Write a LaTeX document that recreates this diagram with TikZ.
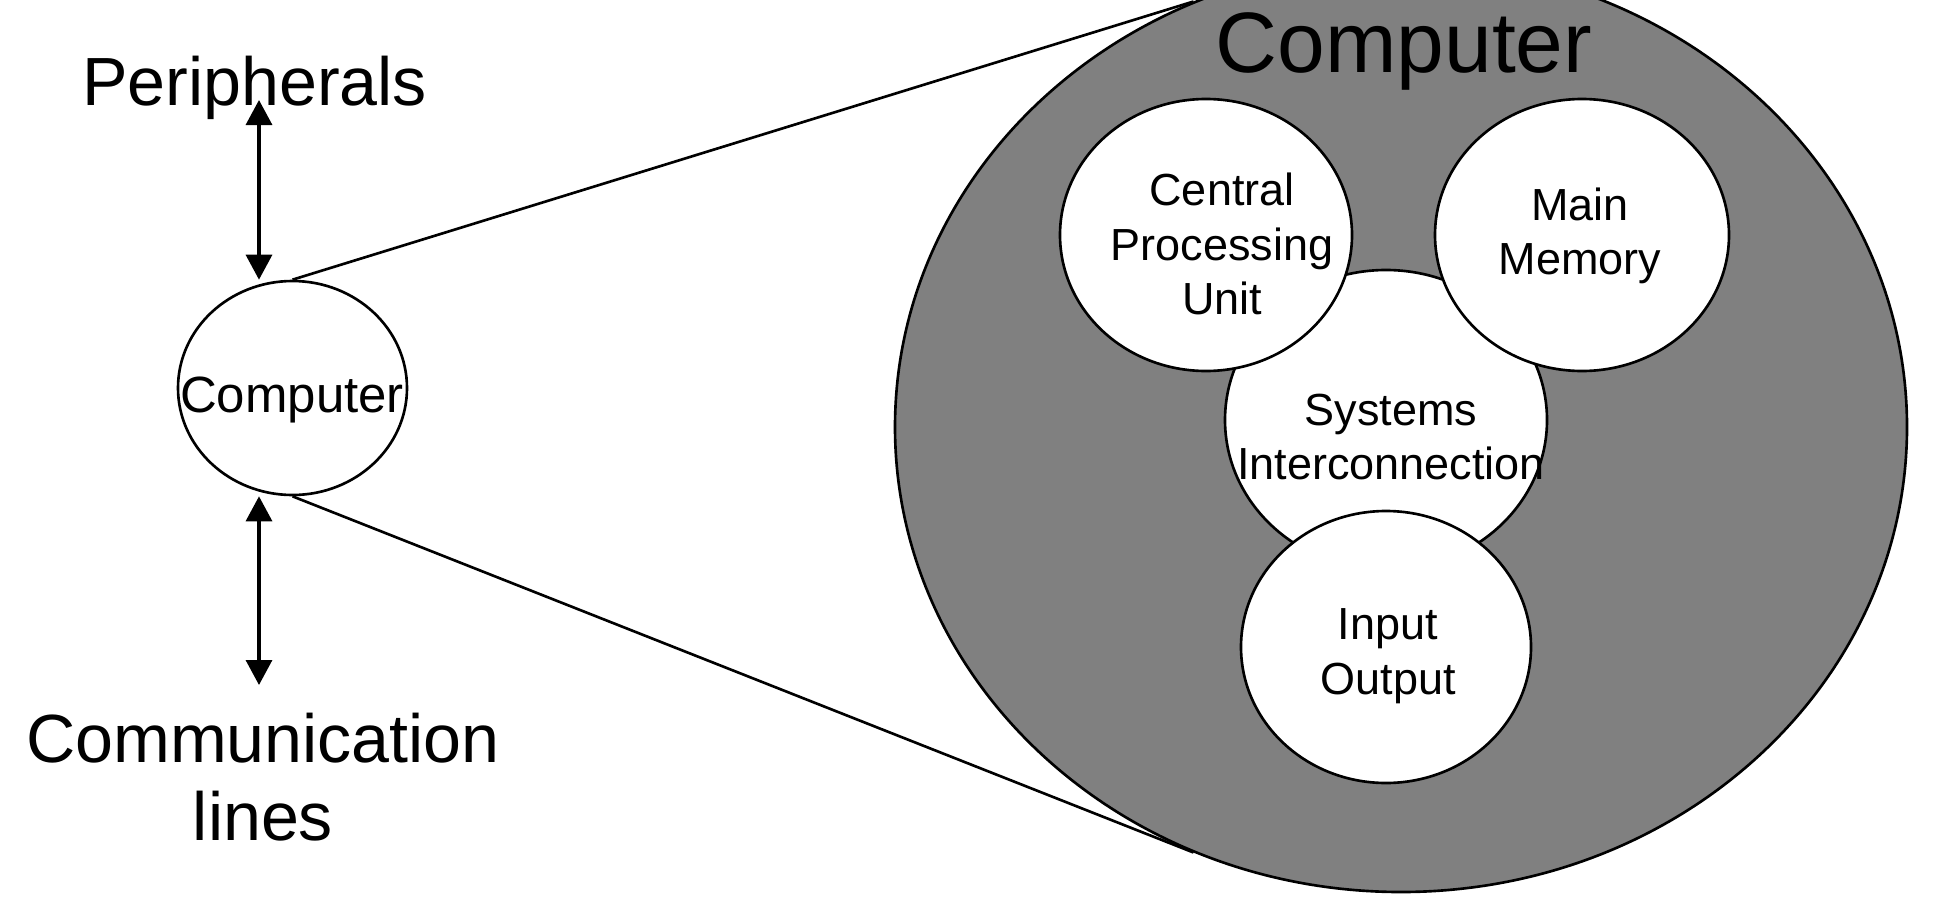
\documentclass[tikz,border=0pt]{standalone}
\usepackage{fontspec}
\setmainfont{Liberation Sans}
\usepackage{tikz}
\usetikzlibrary{shapes.geometric}
\usetikzlibrary{arrows.meta}

\begin{document}
\begin{tikzpicture}[
   unit/.style={draw, ellipse, fill=white, line width=.75pt, inner sep=0pt},
   caption/.style={align=center, inner sep=0pt, font=\fontsize{12.8}{15.5}\selectfont},
   bigtext/.style={align=center, inner sep=0pt, font=\fontsize{19.4}{22.2}\selectfont},
   link/.style={line width=.75pt},
   dbl/.style={line width=.95pt, {Triangle[length=.25cm,width=.26cm]}-{Triangle[length=.25cm,width=.26cm]}}
]
   \useasboundingbox (0,0) rectangle (19.4,-9.15);

   \node[name=comp, unit, fill=black!50, minimum width=10.12cm, minimum height=9.3cm] at (14.01,-4.27) {};
   \node[name=title, anchor=base, inner sep=0pt, font=\fontsize{24.4}{29}\selectfont] at (14.04,-0.72) {Computer};

   \node[name=sic, unit, minimum width=3.22cm, minimum height=3cm] at (13.86,-4.2) {};
   \node[name=cpu, unit, minimum width=2.92cm, minimum height=2.72cm] at (12.06,-2.35) {};
   \node[name=mem, unit, minimum width=2.94cm, minimum height=2.72cm] at (15.82,-2.35) {};
   \node[name=io, unit, minimum width=2.9cm, minimum height=2.72cm] at (13.86,-6.47) {};

   \node[name=cputext, caption] at (12.22,-2.44) {Central\\Processing\\Unit};
   \node[name=memtext, caption] at (15.80,-2.36) {Main\\Memory};
   \node[name=sictext, caption] at (13.91,-4.37) {Systems\\Interconnection};
   \node[name=iotext, caption] at (13.88,-6.56) {Input\\Output};

   \node[name=small, unit, minimum width=2.29cm, minimum height=2.14cm] at (2.925,-3.88) {};
   \node[name=smalltext, anchor=base, inner sep=0pt, font=\fontsize{14.5}{17}\selectfont] at (2.92,-4.12) {Computer};

   \node[name=periph, bigtext, anchor=base] at (2.545,-1.05) {Peripherals};
   \node[name=comm, bigtext] at (2.63,-7.775) {Communication\\lines};

   \coordinate (ptop) at (2.59,-1.0);
   \coordinate (pbot) at (2.59,-6.85);
   \draw[dbl] (ptop) -- (ptop |- small.north);
   \draw[dbl] (small.south -| pbot) -- (pbot);

   \draw[link] (small.north) -- (comp.116);
   \draw[link] (small.south) -- (comp.-116);
\end{tikzpicture}
\end{document}
